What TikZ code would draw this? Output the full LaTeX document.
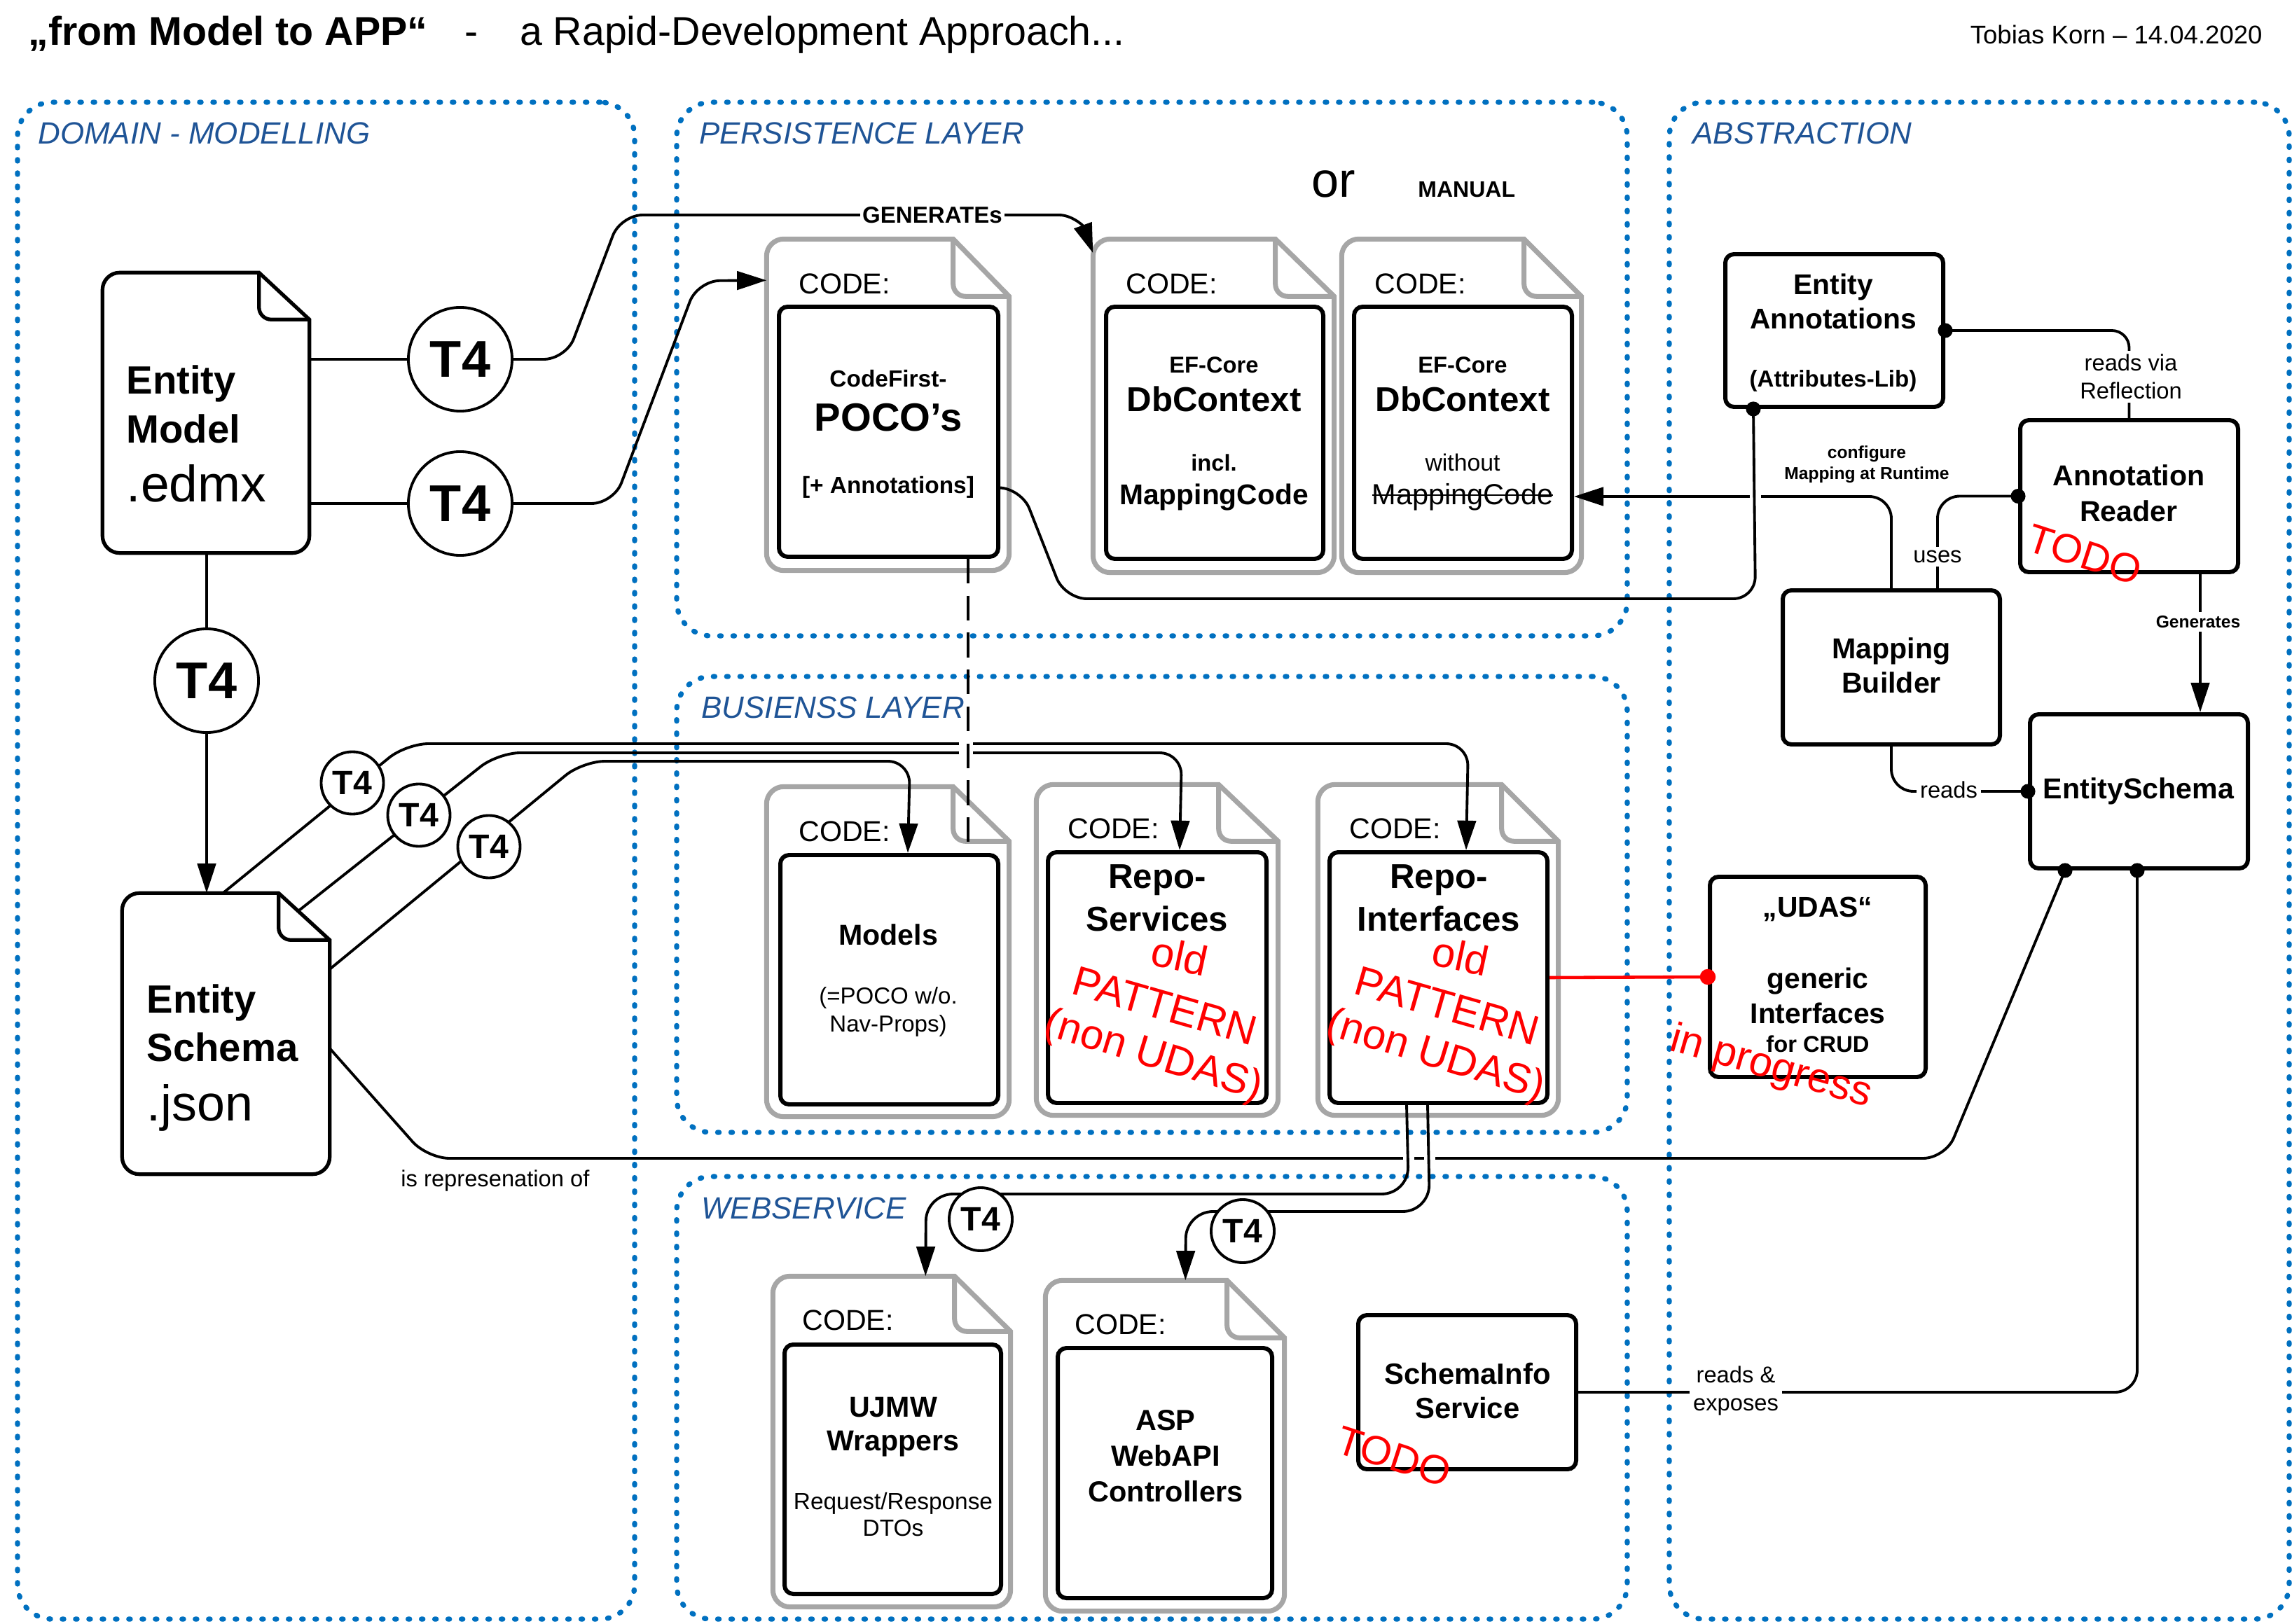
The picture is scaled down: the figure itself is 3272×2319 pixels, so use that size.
\documentclass[tikz,border=0pt]{standalone}
\usepackage{fontspec}
\setmainfont{Liberation Sans}
\usetikzlibrary{arrows.meta}
\usetikzlibrary{calc}
\usetikzlibrary{fit}
\usetikzlibrary{positioning}
\definecolor{secblue}{RGB}{0,112,192}
\definecolor{sectext}{RGB}{31,84,150}
\definecolor{codegrey}{RGB}{166,166,166}

% struck-through text
\newcommand{\crossout}[1]{\setbox0\hbox{#1}\rlap{\rule[0.3em]{\wd0}{0.06em}}\box0}

% page with folded corner around a frame node
\newcommand{\pageoutline}[4]{%
  \draw[#4] ($(#1.north east)+(-#2,0)$) [rounded corners=7pt] -- (#1.north west) -- (#1.south west) -- (#1.south east) [sharp corners] -- ($(#1.north east)+(0,#3)$) -- cycle;
  \draw[#4, fill=none, rounded corners=5pt] ($(#1.north east)+(-#2,0)$) -- ($(#1.north east)+(-#2,#3)$) -- ($(#1.north east)+(0,#3)$);
}

\tikzset{
  section/.style={draw=secblue, line width=2.1pt, line cap=round, dash pattern=on 0.6pt off 4.8pt, rounded corners=14pt, inner sep=0pt},
  sectitle/.style={anchor=base west, text=sectext, font=\itshape\fontsize{12.5}{15}\selectfont},
  docframe/.style={inner sep=0pt},
  codeframe/.style={draw=codegrey, line width=2pt, fill=white},
  modelframe/.style={draw=black, line width=1.5pt, fill=white},
  codebox/.style={draw, line width=1.7pt, rounded corners=3.5pt, fill=white, inner sep=0pt},
  codelbl/.style={anchor=base west, font=\fontsize{11.7}{14}\selectfont},
  txt/.style={anchor=north, align=center, inner sep=0pt},
  conn/.style={line width=1.1pt, rounded corners=9pt},
  arr/.style={-{Triangle[length=12pt,width=7.5pt]}},
  tfour/.style={draw, circle, line width=1.1pt, fill=white, inner sep=0pt},
  tbig/.style={tfour, minimum size=1.48cm, font=\bfseries\fontsize{21}{24}\selectfont},
  tsmall/.style={tfour, minimum size=0.89cm, font=\bfseries\fontsize{13.7}{16}\selectfont},
  lbl/.style={fill=white, inner sep=1.5pt, align=center, font=\fontsize{9.3}{11.4}\selectfont},
  smallbold/.style={align=center, font=\bfseries\fontsize{7}{8.5}\selectfont},
  todo/.style={text=red, inner sep=0pt, font=\fontsize{16.5}{20}\selectfont},
  hole/.style={draw=white, line width=4.5pt},
}

\begin{document}
\begin{tikzpicture}[x=0.01cm, y=-0.01cm]
\useasboundingbox (0,0) rectangle (3272,2319);

% heading
\node[anchor=base west, font=\fontsize{16.3}{19}\selectfont] (title) at (28,65) {\textbf{„from Model to APP“}\hspace{15pt}-\hspace{17pt}a Rapid-Development Approach...};
\node[anchor=base east, font=\fontsize{10.4}{12}\selectfont] (author) at (3242,63) {Tobias Korn – 14.04.2020};

% sections
\node[section, fit={(25,146) (906,2312)}] (domain) {};
\node[section, fit={(966,146) (2323,908)}] (persist) {};
\node[section, fit={(966,966) (2323,1617)}] (business) {};
\node[section, fit={(966,1680) (2323,2312)}] (websvc) {};
\node[section, fit={(2383,146) (3268,2312)}] (abstr) {};
\node[sectitle] (domainT) at (42,206) {DOMAIN - MODELLING};
\node[sectitle] (persistT) at (986,206) {PERSISTENCE LAYER};
\node[sectitle] (businessT) at (989,1026) {BUSIENSS LAYER};
\node[sectitle] (websvcT) at (989,1740) {WEBSERVICE};
\node[sectitle] (abstrT) at (2404,206) {ABSTRACTION};

% domain modelling
\node[docframe, fit={(147,390) (441,789)}] (emDoc) {};
\pageoutline{emDoc}{72}{67}{modelframe}
\node[anchor=north west, align=left, inner sep=0pt, font=\bfseries\fontsize{16}{19.9}\selectfont] (emText) at (180,521) {Entity\\Model\\[4pt]\mdseries\fontsize{20.8}{19.9}\selectfont .edmx};

\node[docframe, fit={(175,1276) (470,1676)}] (esDoc) {};
\pageoutline{esDoc}{73}{67}{modelframe}
\node[anchor=north west, align=left, inner sep=0pt, font=\bfseries\fontsize{16}{19.6}\selectfont] (esText) at (209,1405) {Entity\\Schema\\[4.6pt]\mdseries\fontsize{20.4}{19.6}\selectfont .json};

% persistence layer
\node[docframe, fit={(1095,342) (1440,814)}] (pocoDoc) {};
\pageoutline{pocoDoc}{80}{82}{codeframe}
\node[codebox, fit={(1112,438) (1425,795)}] (pocoBox) {};
\node[codelbl] (pocoCode) at (1128,420) {CODE:};
\node[txt, font=\bfseries\fontsize{9.5}{17.9}\selectfont] (pocoText) at (1268,528) {CodeFirst-\\\fontsize{16}{17.9}\selectfont POCO’s\\[7.4pt]{[}+ Annotations{]}};

\node[docframe, fit={(1561,342) (1904,817)}] (dbcDoc) {};
\pageoutline{dbcDoc}{84}{82}{codeframe}
\node[codebox, fit={(1579,438) (1889,798)}] (dbcBox) {};
\node[codelbl] (dbcCode) at (1595,420) {CODE:};
\node[txt, font=\bfseries\fontsize{9.3}{13.7}\selectfont] (dbcText) at (1733,509) {EF-Core\\[1.9pt]\fontsize{14}{13.7}\selectfont DbContext\\[10.5pt]incl.\\\fontsize{11.6}{13.7}\selectfont MappingCode};

\node[docframe, fit={(1916,342) (2257,817)}] (dbmDoc) {};
\pageoutline{dbmDoc}{82}{82}{codeframe}
\node[codebox, fit={(1933,438) (2244,798)}] (dbmBox) {};
\node[codelbl] (dbmCode) at (1950,420) {CODE:};
\node[txt, font=\bfseries\fontsize{9.3}{13.7}\selectfont] (dbmText) at (2088,509) {EF-Core\\[1.9pt]\fontsize{14}{13.7}\selectfont DbContext\\[10.5pt]\mdseries\fontsize{9.6}{13.7}\selectfont without\\\mdseries\fontsize{11.8}{13.7}\selectfont\crossout{MappingCode}};

\node[anchor=base, font=\fontsize{20}{24}\selectfont] (orT) at (1904,282) {or};
\node[anchor=base west, font=\bfseries\fontsize{9.1}{11}\selectfont] (manualT) at (2012,282) {MANUAL};

% business layer
\node[docframe, fit={(1095,1124) (1440,1594)}] (modelsDoc) {};
\pageoutline{modelsDoc}{80}{78}{codeframe}
\node[codebox, fit={(1114,1221) (1425,1577)}] (modelsBox) {};
\node[codelbl] (modelsCode) at (1128,1202) {CODE:};
\node[txt, font=\bfseries\fontsize{11.7}{11.4}\selectfont] (modelsText) at (1268,1319) {Models\\[12.5pt]\mdseries\fontsize{9.4}{11.4}\selectfont (=POCO w/o.\\\mdseries\fontsize{9.4}{11.4}\selectfont Nav-Props)};

\node[docframe, fit={(1480,1121) (1824,1592)}] (svcDoc) {};
\pageoutline{svcDoc}{85}{81}{codeframe}
\node[codebox, fit={(1496,1217) (1808,1575)}] (svcBox) {};
\node[codelbl] (svcCode) at (1512,1197) {CODE:};
\node[txt, font=\bfseries\fontsize{14}{17.4}\selectfont] (svcText) at (1652,1234) {Repo-\\Services};

\node[docframe, fit={(1882,1121) (2224,1592)}] (ifcDoc) {};
\pageoutline{ifcDoc}{81}{81}{codeframe}
\node[codebox, fit={(1898,1217) (2209,1575)}] (ifcBox) {};
\node[codelbl] (ifcCode) at (1914,1197) {CODE:};
\node[txt, font=\bfseries\fontsize{14}{17.4}\selectfont] (ifcText) at (2054,1234) {Repo-\\Interfaces};

% webservice
\node[docframe, fit={(1104,1823) (1442,2294)}] (ujmwDoc) {};
\pageoutline{ujmwDoc}{80}{79}{codeframe}
\node[codebox, fit={(1120,1920) (1429,2276)}] (ujmwBox) {};
\node[codelbl] (ujmwCode) at (1133,1899) {CODE:};
\node[txt, font=\bfseries\fontsize{11.7}{10.8}\selectfont] (ujmwText) at (1275,1994) {UJMW\\[3.1pt]Wrappers\\[13.1pt]\mdseries\fontsize{9.5}{10.8}\selectfont Request/Response\\\mdseries\fontsize{9.5}{10.8}\selectfont DTOs};

\node[docframe, fit={(1493,1829) (1833,2300)}] (aspDoc) {};
\pageoutline{aspDoc}{82}{82}{codeframe}
\node[codebox, fit={(1510,1925) (1816,2282)}] (aspBox) {};
\node[codelbl] (aspCode) at (1522,1905) {CODE:};
\node[txt, font=\bfseries\fontsize{11.8}{14.5}\selectfont] (aspText) at (1664,2013) {ASP\\WebAPI\\Controllers};

\node[codebox, fit={(1939,1878) (2250,2098)}] (info) {};
\node[txt, font=\bfseries\fontsize{11.9}{14.2}\selectfont] (infoText) at (2095,1945) {SchemaInfo\\Service};

% abstraction
\node[codebox, fit={(2463,363) (2774,581)}] (annot) {};
\node[txt, font=\bfseries\fontsize{11.6}{13.9}\selectfont] (annotText) at (2617,390) {Entity\\Annotations\\[9.7pt]\fontsize{9.4}{13.9}\selectfont (Attributes-Lib)};
\node[codebox, fit={(2884,600) (3195,817)}] (reader) {};
\node[txt, font=\bfseries\fontsize{11.7}{14.5}\selectfont] (readerText) at (3039,663) {Annotation\\Reader};
\node[codebox, fit={(2545,843) (2855,1063)}] (mapper) {};
\node[txt, font=\bfseries\fontsize{11.7}{13.9}\selectfont] (mapperText) at (2700,910) {Mapping\\Builder};
\node[codebox, fit={(2898,1020) (3209,1240)}] (schema) {};
\node[anchor=base, font=\bfseries\fontsize{11.7}{14}\selectfont] (schemaText) at (3053,1141) {EntitySchema};
\node[codebox, fit={(2441,1252) (2749,1538)}] (udas) {};
\node[txt, font=\bfseries\fontsize{11.6}{11.7}\selectfont] (udasText) at (2595,1280) {„UDAS“\\[17.3pt]generic\\[2.5pt]Interfaces\\\fontsize{9.3}{11.7}\selectfont for CRUD};

% T4 generation from the model
\node[tbig] (t4a) at (657,513) {T4};
\node[tbig] (t4b) at (657,719) {T4};
\node[tbig] (t4c) at (295,972) {T4};
\draw[conn] (t4a.west -| emDoc.east) -- (t4a.west);
\draw[conn, arr] (t4a.east) -- (808,513) -- (886,307) -- (1480,307) .. controls (1530,307) and (1546,322) .. ($(dbcDoc.north west)+(0,20)$);
\node[fill=white, inner sep=1pt, font=\bfseries\fontsize{9.4}{11}\selectfont] (genT) at (1331,307) {GENERATEs};
\draw[conn] (t4b.west -| emDoc.east) -- (t4b.west);
\draw[conn, arr] (t4b.east) -- (876,719) -- (996,401) -- ($(pocoDoc.north west)+(0,59)$);
\draw[conn] (t4c.north |- emDoc.south) -- (t4c.north);
\draw[conn, arr] (t4c.south) -- (t4c.south |- esDoc.north);

% T4 generation from the schema
\draw[conn, arr] ($(esDoc.north west)+(144,0)$) -- (580,1062) -- (2096,1062) -- ($(ifcBox.north west)+(198,0)$);
\draw[conn, arr] ($(esDoc.north west)+(251,26)$) -- (711,1075) -- (1687,1075) -- ($(svcBox.north west)+(191,0)$);
\draw[conn, arr] ($(esDoc.east)+(0,-92)$) -- (832,1087) -- (1299,1087) -- ($(modelsBox.north west)+(185,0)$);
\node[tsmall] (t4m) at (503,1118) {T4};
\node[tsmall] (t4s) at (598,1164) {T4};
\node[tsmall] (t4i) at (698,1209) {T4};
\draw[hole, line width=5.7pt] (1379,1050) -- (1379,1100);
\draw[line width=1.1pt, dash pattern=on 10pt off 5pt] ($(pocoBox.south east)+(-46,0)$) -- ($(modelsBox.north east)+(-46,0)$);

% representation of the schema
\draw[conn] ($(schema.south west)+(53,0)$) -- (2777,1654) -- (610,1654) -- ($(esDoc.east)+(0,21)$);
\fill ($(schema.south west)+(53,0)$) circle (3pt);
\node[anchor=base, font=\fontsize{9.3}{11}\selectfont] (reprT) at (707,1694) {is represenation of};

% webservice generation
\draw[hole] (2011,1644) -- (2011,1664);
\draw[hole] (2041,1644) -- (2041,1664);
\draw[conn, rounded corners=11pt, arr] ($(ifcBox.south west)+(113,0)$) -- (2011,1705) -- (1322,1705) -- ($(ujmwDoc.north west)+(218,0)$);
\draw[conn, rounded corners=11pt, arr] ($(ifcBox.south west)+(143,0)$) -- (2041,1730) -- (1693,1730) -- ($(aspDoc.north west)+(200,0)$);
\node[tsmall, minimum size=0.9cm] (t4w) at (1400,1741) {T4};
\node[tsmall, minimum size=0.9cm] (t4x) at (1774,1758) {T4};

% abstraction links
\draw[conn, rounded corners=7pt] (annot.east) -| (reader.north);
\fill (annot.east) circle (3pt);
\node[lbl] (reflT) at (3042,538) {reads via\\Reflection};

\draw[conn, arr] (mapper.north) |- ($(dbmBox.east)+(0,91)$);
\node[smallbold] (cfgT) at (2665,663) {configure\\Mapping at Runtime};
\draw[hole] (2506,692) -- (2506,724);
\draw[conn] ($(annot.south west)+(43,0)$) -- (2506,855) -- (1520,855) -- (1458,697) -- ($(pocoBox.east)+(0,80)$);
\fill ($(annot.south west)+(43,0)$) circle (3pt);

\draw[conn] (reader.west) -| ($(mapper.north)+(66,0)$);
\fill (reader.west) circle (3pt);
\node[lbl] (usesT) at (2766,795) {uses};

\draw[conn, arr] ($(reader.south east)+(-57,0)$) -- ($(schema.north east)+(-71,0)$);
\node[smallbold, fill=white, inner sep=1.5pt] (genSchemaT) at (3138,888) {Generates};

\draw[conn] (mapper.south) |- (schema.west);
\fill (schema.west) circle (3pt);
\node[lbl] (readsT) at (2782,1128) {reads};

\draw[conn] ($(schema.south west)+(156,0)$) |- (info.east);
\fill ($(schema.south west)+(156,0)$) circle (3pt);
\node[lbl] (exposeT) at (2478,1986) {reads \&\\exposes};

% UDAS link
\draw[red, line width=1.3pt] (ifcBox.east) -- (udas.west);
\fill[red] (udas.west) circle (3.2pt);

% red notes
\node[todo, rotate=-12, font=\fontsize{17}{20}\selectfont] (svcOld) at (1684,1365) {old};
\node[todo, rotate=-16, font=\fontsize{17}{20}\selectfont] (svcPat) at (1663,1436) {PATTERN};
\node[todo, rotate=-17, font=\fontsize{17}{20}\selectfont] (svcNon) at (1646,1509) {(non UDAS)};
\node[todo, rotate=-12, font=\fontsize{17}{20}\selectfont] (ifcOld) at (2085,1365) {old};
\node[todo, rotate=-16, font=\fontsize{17}{20}\selectfont] (ifcPat) at (2066,1436) {PATTERN};
\node[todo, rotate=-17, font=\fontsize{17}{20}\selectfont] (ifcNon) at (2049,1509) {(non UDAS)};
\node[todo, rotate=-16, font=\fontsize{17}{20}\selectfont] (progT) at (2528,1525) {in progress};
\node[todo, rotate=-18] (readerTodo) at (2976,792) {TODO};
\node[todo, rotate=-18] (infoTodo) at (1990,2080) {TODO};
\end{tikzpicture}
\end{document}
